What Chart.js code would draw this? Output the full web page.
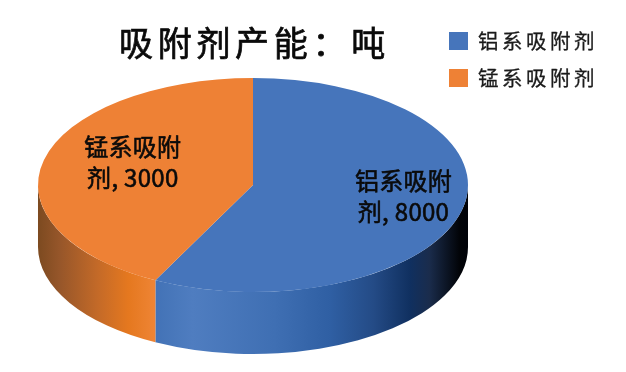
<!DOCTYPE html>
<html>
<head>
<meta charset="utf-8">
<style>
  body { margin: 0; background: #fff; }
  #chart__Div { width: 626px; height: 372px; }
</style>
<script src="https://cdn.jsdelivr.net/npm/chart.js@4"></script>
</head>
<body>
<div id="chart__Div"><canvas id="chart__Canvas" width="626" height="372"></canvas></div>
<script>
const titleText = "吸附剂产能：吨";
const categories = ["铝系吸附剂", "锰系吸附剂"];
// values printed in the data labels
const printedValues = [8000, 3000];
// slice sizes read off the drawn angles, the picture does not draw them 8000:3000
const sliceShares = [57.5, 42.5];
const sliceColors = ["#4675BB", "#EE8135"];
// label wrap, as in the picture
const labelLines = [["铝系吸附", "剂, "], ["锰系吸附", "剂, "]];

const FONT = '"Noto Sans CJK SC", sans-serif';
const pieBox = { cx: 253, cy: 185, rx: 215, ry: 107, depth: 62 };

// side wall shading, left to right over the whole pie width
const wallStops = [
  [[0, "#7C4A20"], [0.05, "#96562A"], [0.14, "#C46A28"], [0.21, "#E5781F"], [0.27, "#EE8434"]],
  [[0.27, "#4272B6"], [0.36, "#4F7DC0"], [0.55, "#3F6FB3"], [0.68, "#2F5FA3"], [0.78, "#244B86"],
   [0.865, "#103060"], [0.91, "#1A2C4C"], [0.98, "#020408"], [1, "#000208"]]
];

// Draws the visible front wall of every slice, then squashes the pie
const pie3d = {
  id: "pie3d",
  beforeDatasetsDraw(chart) {
    const ctx = chart.ctx;
    const arcs = chart.getDatasetMeta(0).data;
    const { cx, cy, rx, ry, depth } = pieBox;
    arcs.forEach((arc, i) => {
      const a0 = Math.max(arc.startAngle, 0);
      const a1 = Math.min(arc.endAngle, Math.PI);
      if (a1 <= a0) return;
      const grad = ctx.createLinearGradient(cx - rx, 0, cx + rx, 0);
      const stops = wallStops[i === 0 ? 1 : 0];
      stops.forEach(s => grad.addColorStop(s[0], s[1]));
      ctx.beginPath();
      ctx.ellipse(cx, cy, rx, ry, 0, a0, a1);
      ctx.ellipse(cx, cy + depth, rx, ry, 0, a1, a0, true);
      ctx.closePath();
      ctx.fillStyle = grad;
      ctx.fill();
    });
    const first = arcs[0];
    ctx.save();
    ctx.translate(cx, cy);
    ctx.scale(rx / first.outerRadius, ry / first.outerRadius);
    ctx.translate(-first.x, -first.y);
  },
  afterDatasetsDraw(chart) {
    chart.ctx.restore();
  }
};

// fill plus a thin stroke, the picture's text is heavier than Regular
function heavyText(ctx, text, x, y, weight) {
  ctx.lineWidth = weight;
  ctx.strokeStyle = ctx.fillStyle;
  ctx.strokeText(text, x, y);
  ctx.fillText(text, x, y);
}

// Title, legend and data labels
const chartTexts = {
  id: "chartTexts",
  afterDraw(chart) {
    const ctx = chart.ctx;
    const arcs = chart.getDatasetMeta(0).data;
    ctx.save();
    ctx.fillStyle = "#0a0a0a";
    ctx.textBaseline = "middle";

    ctx.textAlign = "left";
    ctx.font = "34px " + FONT;
    ctx.letterSpacing = "4.7px";
    heavyText(ctx, titleText, 119, 43, 0.7);

    ctx.font = "20.5px " + FONT;
    ctx.letterSpacing = "3.5px";
    categories.forEach((name, i) => {
      const y = 41 + i * 37;
      ctx.fillStyle = sliceColors[i];
      ctx.fillRect(449, y - 9, 19, 18);
      ctx.fillStyle = "#1a1a1a";
      heavyText(ctx, name, 478, y, 0.3);
    });

    // radial distance and y shift of each label, fitted by eye
    const labelRadius = [0.72, 0.575];
    const labelShift = [-7, -8];
    ctx.fillStyle = "#0a0a0a";
    ctx.textAlign = "center";
    ctx.font = "24px " + FONT;
    ctx.letterSpacing = "0.3px";
    arcs.forEach((arc, i) => {
      const mid = (arc.startAngle + arc.endAngle) / 2;
      const x = pieBox.cx + Math.cos(mid) * pieBox.rx * labelRadius[i];
      const y = pieBox.cy + Math.sin(mid) * pieBox.ry * labelRadius[i] + labelShift[i];
      heavyText(ctx, labelLines[i][0], x, y - 15.5, 0.6);
      heavyText(ctx, labelLines[i][1] + printedValues[i], x, y + 15.5, 0.6);
    });
    ctx.restore();
  }
};

new Chart(document.getElementById("chart__Canvas"), {
  type: "pie",
  data: {
    labels: categories,
    datasets: [{
      data: sliceShares,
      backgroundColor: sliceColors,
      borderWidth: 0,
      clip: false
    }]
  },
  options: {
    responsive: false,
    animation: false,
    events: [],
    rotation: 0,
    plugins: {
      legend: { display: false },
      title: { display: false },
      tooltip: { enabled: false }
    }
  },
  plugins: [pie3d, chartTexts]
});
</script>
</body>
</html>
